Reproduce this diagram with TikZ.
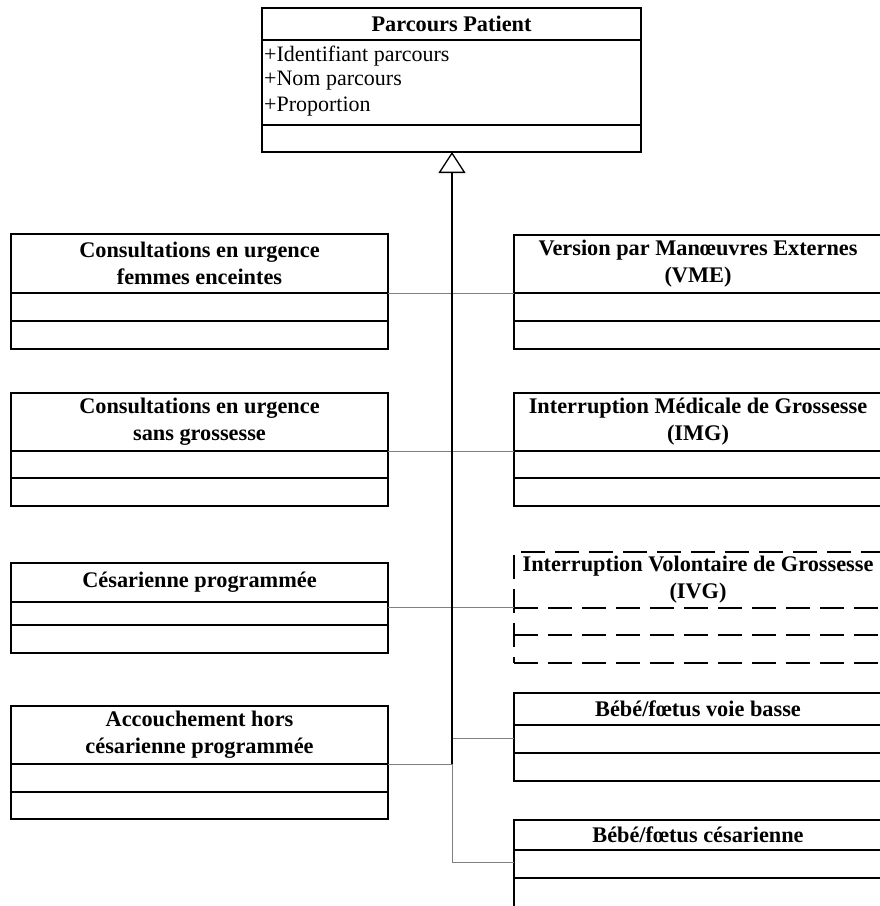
\documentclass[tikz,border=0pt]{standalone}
\usepackage{fontspec}
\setmainfont{Liberation Serif}
\usetikzlibrary{arrows.meta}
\newcommand\umlcls[8]{% #1 extra style, #2 name, #3 x, #4 top, #5 d1, #6 d2, #7 bottom, #8 width
  \pgfmathsetmacro\hh{#7-#4}%
  \node[box,#1,minimum width=#8pt,minimum height=\hh pt] (#2) at (#3,#4) {};
  \coordinate (#2-a) at (#3,#5);
  \coordinate (#2-b) at (#3,#6);
  \draw[divider,#1] (#2-a) -- ++(#8,0);
  \draw[divider,#1] (#2-b) -- ++(#8,0);
}
\begin{document}
\begin{tikzpicture}[x=1pt,y=-1pt,
  box/.style={draw=black,line width=1.3pt,inner sep=0pt,outer sep=0pt,anchor=north west,rectangle},
  divider/.style={draw=black,line width=1.3pt},
  dashbox/.style={dash pattern=on 24pt off 10pt},
  ttl/.style={font=\fontsize{22.3}{27}\selectfont\bfseries,align=center,inner sep=0pt},
  attr/.style={font=\fontsize{22}{25}\selectfont,anchor=west,inner sep=0pt},
  conn/.style={draw=black!50,line width=1pt},
  gen/.style={draw=black,line width=1.3pt,-{Triangle[open,length=21pt,width=27pt,line width=1.3pt]}}]
\useasboundingbox (0,0) rectangle (880,906);
\clip (0,0) rectangle (880,906);
\fill[white] (0,0) rectangle (880,906);

% Parent class
\umlcls{}{P}{262}{8}{40}{125}{152}{379}
\node[ttl] (Pt) at (451.5,24) {Parcours Patient};
\node[attr] (Pa1) at (264,56) {+Identifiant parcours};
\node[attr] (Pa2) at (264,81) {+Nom parcours};
\node[attr] (Pa3) at (264,107) {+Proportion};

% Left column
\umlcls{}{L1}{11}{234}{293}{321}{349}{377}
\node[ttl] (L1t) at (199.5,263.5) {Consultations en urgence\\femmes enceintes};
\umlcls{}{L2}{11}{393}{451}{478}{506}{377}
\node[ttl] (L2t) at (199.5,422) {Consultations en urgence\\sans grossesse};
\umlcls{}{L3}{11}{563}{602}{625}{653}{377}
\node[ttl] (L3t) at (199.5,582) {Césarienne programmée};
\umlcls{}{L4}{11}{706}{764}{792}{819}{377}
\node[ttl] (L4t) at (199.5,735) {Accouchement hors\\césarienne programmée};

% Right column
\umlcls{}{R1}{514}{235}{293}{321}{349}{368}
\node[ttl] (R1t) at (698,264) {Version par Manœuvres Externes\\(VME)};
\umlcls{}{R2}{514}{393}{451}{478}{506}{368}
\node[ttl] (R2t) at (698,422) {Interruption Médicale de Grossesse\\(IMG)};
\umlcls{dashbox}{R3}{514}{552}{608}{635}{663}{368}
\node[ttl] (R3t) at (698,580) {Interruption Volontaire de Grossesse\\(IVG)};
\umlcls{}{R4}{514}{693}{725}{753}{781}{368}
\node[ttl] (R4t) at (698,709) {Bébé/fœtus voie basse};
\umlcls{}{R5}{514}{820}{850}{878}{930}{368}
\node[ttl] (R5t) at (698,835) {Bébé/fœtus césarienne};

% Connectors
\coordinate (j3) at (452,607);
\coordinate (j4) at (452,738);
\coordinate (j5) at (452,764);
\coordinate (j6) at (452,862);
\draw[conn] (L1-a -| L1.east) -- (L1-a -| R1.west);
\draw[conn] (L2-a -| L2.east) -- (L2-a -| R2.west);
\draw[conn] (j3 -| L3.east) -- (j3 -| R3.west);
\draw[conn] (j4) -- (j4 -| R4.west);
\draw[conn] (L4-a -| L4.east) -- (j5);
\draw[conn] (j5) -- (j6) -- (j6 -| R5.west);
\draw[gen] (j5) -- (j5 |- P.south);
\end{tikzpicture}
\end{document}
